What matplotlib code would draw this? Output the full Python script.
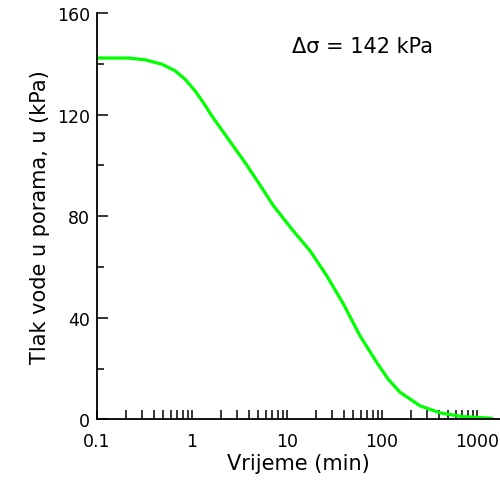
import matplotlib
matplotlib.use("Agg")

import matplotlib.pyplot as plt
from matplotlib.ticker import FixedLocator, FixedFormatter, NullFormatter

# pore pressure dissipation
time_min = [0.1, 0.213, 0.32, 0.48, 0.662, 0.844, 1.076, 1.37, 1.61, 2.41,
            3.61, 5.2, 7.18, 11.6, 17.5, 26.2, 39.2, 58.6, 87.9, 116, 155,
            251, 408, 718, 1430]
pore_u = [142.3, 142.3, 141.6, 139.9, 137.3, 134.0, 129.4, 123.8, 119.6, 110.4,
          101.2, 92.3, 84.2, 74.3, 66.4, 56.6, 45.5, 33.0, 22.5, 15.9, 10.7,
          5.4, 2.6, 1.1, 0.5]

x_ticks = [0.1, 1, 10, 100, 1000]
x_labels = ["0.1", "1", "10", "100", "1000"]
y_ticks = [0, 40, 80, 120, 160]
y_minor = [20, 60, 100, 140]


def main():
    fig = plt.figure(figsize=(5.0, 4.85), dpi=100)
    ax = fig.add_axes([0.194, 0.133, 0.806, 0.838])

    ax.plot(time_min, pore_u, color="#00ff00", lw=2.3,
            solid_capstyle="round", solid_joinstyle="round")

    ax.set_xscale("log")
    ax.set_xlim(0.1, 1746)
    ax.set_ylim(0, 160)

    ax.xaxis.set_major_locator(FixedLocator(x_ticks))
    ax.xaxis.set_major_formatter(FixedFormatter(x_labels))
    minors = [m * d for d in (0.1, 1, 10, 100) for m in range(2, 10)]
    ax.xaxis.set_minor_locator(FixedLocator(minors))
    ax.xaxis.set_minor_formatter(NullFormatter())

    ax.set_yticks(y_ticks)
    ax.yaxis.set_minor_locator(FixedLocator(y_minor))

    for s in ("top", "right"):
        ax.spines[s].set_visible(False)
    ax.spines["left"].set_linewidth(1.3)
    ax.spines["bottom"].set_linewidth(1.3)

    ax.tick_params(axis="x", which="both", direction="in", length=6.5, width=1.1,
                   labelsize=12.5, pad=9)
    ax.tick_params(axis="y", which="major", direction="in", length=8, width=1.1,
                   labelsize=12.5, pad=5)
    ax.tick_params(axis="y", which="minor", direction="in", length=5, width=1.1)

    ax.set_xlabel("Vrijeme (min)", fontsize=15, labelpad=2)
    ax.set_ylabel("Tlak vode u porama, u (kPa)", fontsize=15, labelpad=5)

    ax.text(63, 147, "Δσ = 142 kPa", fontsize=15, ha="center", va="center")

    fig.savefig("out.png", dpi=100)


if __name__ == "__main__":
    main()
